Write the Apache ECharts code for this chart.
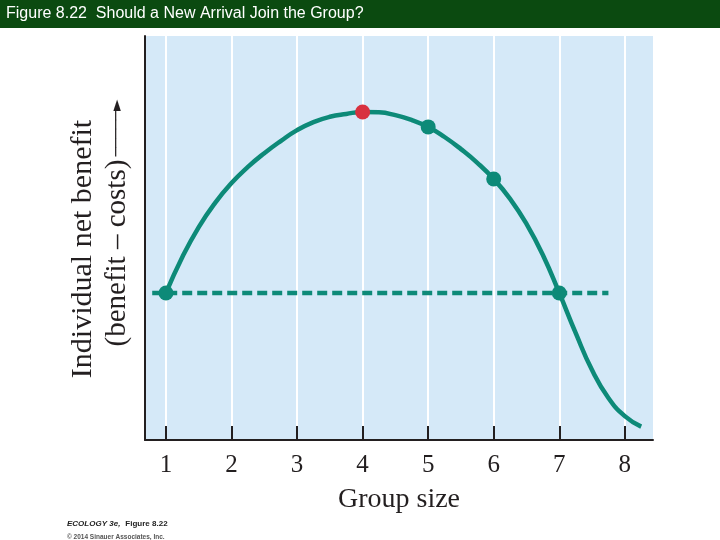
<!DOCTYPE html>
<html>
<head>
<meta charset="utf-8">
<script src="https://cdn.jsdelivr.net/npm/echarts@6/dist/echarts.min.js"></script>
<style>html,body{margin:0;padding:0;background:#fff}#c{width:720px;height:540px}</style>
</head>
<body>
<div id="c"></div>
<script>
// Group size ticks
const groupSizes = [1, 2, 3, 4, 5, 6, 7, 8];
// Net benefit curve (schematic, y in relative units 0-100), read every 0.25 group size
const curveX = [1, 1.25, 1.5, 1.75, 2, 2.25, 2.5, 2.75, 3, 3.25, 3.5, 3.75, 4, 4.25, 4.5, 4.75, 5, 5.25, 5.5, 5.75, 6, 6.25, 6.5, 6.75, 7, 7.25, 7.5, 7.75, 8, 8.25];
const curveY = [36.4, 45.3, 52.7, 58.7, 63.6, 67.6, 71.0, 74.0, 76.7, 78.7, 80.0, 80.7, 81.2, 81.1, 80.4, 79.2, 77.5, 75.0, 72.0, 68.6, 64.6, 59.7, 53.5, 45.8, 36.4, 26.5, 17.3, 10.4, 5.9, 3.3];
// Marked group sizes on the curve
const dotX = [1, 4, 5, 6, 7];
const dotY = [36.4, 81.2, 77.5, 64.6, 36.4];
const optimumSize = 4;
// Solitary-benefit reference level (dashed line)
const soloLevel = 36.4;
const soloLineX = [0.79, 7.75];

const teal = '#0d8a78';
const red = '#d8313f';
const sans = "'Liberation Sans', sans-serif";

const chart = echarts.init(document.getElementById('c'), null, {renderer: 'canvas'});
chart.setOption({
  animation: false,
  backgroundColor: '#ffffff',
  graphic: [{
    type: 'rect', z: -1, silent: true,
    shape: {x: 0, y: 0, width: 720, height: 28},
    style: {fill: '#0b4a10'}
  }],
  title: [{
    text: 'Figure 8.22  Should a New Arrival Join the Group?',
    left: 1, top: 1,
    textStyle: {color: '#ffffff', fontFamily: 'Liberation Sans', fontSize: 16, fontWeight: 'normal'}
  }, {
    text: '{a|ECOLOGY 3e,} {b|Figure 8.22}\n{c|© 2014 Sinauer Associates, Inc.}',
    left: 67, top: 515, padding: 0,
    textStyle: {
      rich: {
        a: {fontFamily: sans, fontSize: 8, fontWeight: 'bold', fontStyle: 'italic', color: '#222', lineHeight: 10},
        b: {fontFamily: sans, fontSize: 8, fontWeight: 'bold', color: '#222', lineHeight: 10},
        c: {fontFamily: sans, fontSize: 6.5, color: '#555', lineHeight: 9}
      }
    }
  }],
  grid: {
    left: 145, right: 67, top: 36, bottom: 100,
    show: true, backgroundColor: '#d5e9f8', borderWidth: 0
  },
  xAxis: {
    type: 'value', min: 0.68, max: 8.43,
    axisLine: {show: true, onZero: false, lineStyle: {color: '#231f20', width: 2}},
    axisTick: {show: true, inside: true, length: 14, customValues: groupSizes, lineStyle: {color: '#231f20', width: 2}},
    axisLabel: {show: true, customValues: groupSizes, margin: 13, fontFamily: 'Liberation Serif', fontSize: 25, color: '#231f20'},
    splitLine: {show: true, lineStyle: {color: '#ffffff', width: 2}},
    name: 'Group size', nameLocation: 'middle', nameGap: 46,
    nameTextStyle: {fontFamily: 'Liberation Serif', fontSize: 28, color: '#231f20'}
  },
  yAxis: {
    type: 'value', min: 0, max: 100,
    axisLine: {show: true, onZero: false, lineStyle: {color: '#231f20', width: 2}},
    axisTick: {show: false}, axisLabel: {show: false}, splitLine: {show: false},
    name: '{a|Individual net benefit}\n{b|(benefit – costs)}{s| }{arr|─────►}',
    nameLocation: 'middle', nameRotate: 90, nameGap: 11,
    nameTextStyle: {
      color: '#231f20',
      rich: {
        a: {fontFamily: 'Liberation Serif', fontSize: 30, lineHeight: 34, color: '#231f20', padding: [0, 22, 0, 0]},
        b: {fontFamily: 'Liberation Serif', fontSize: 29, lineHeight: 34, color: '#231f20', padding: [0, 0, 0, 30]},
        s: {fontFamily: 'Liberation Serif', fontSize: 14, lineHeight: 34},
        arr: {fontFamily: 'DejaVu Sans', fontSize: 15, lineHeight: 34, color: '#231f20'}
      }
    }
  },
  series: [{
    type: 'line', name: 'solo', silent: true,
    data: soloLineX.map(x => [x, soloLevel]),
    symbol: 'none',
    lineStyle: {color: teal, width: 4.5, type: [10, 5]}
  }, {
    type: 'line', name: 'net benefit', silent: true,
    data: curveX.map((x, i) => [x, curveY[i]]),
    smooth: 0.5, symbol: 'none',
    lineStyle: {color: teal, width: 4.5}
  }, {
    type: 'scatter', name: 'points', silent: true,
    data: dotX.map((x, i) => ({value: [x, dotY[i]], itemStyle: {color: x === optimumSize ? red : teal, opacity: 1}})),
    symbolSize: 15, z: 5
  }]
});
</script>
</body>
</html>
